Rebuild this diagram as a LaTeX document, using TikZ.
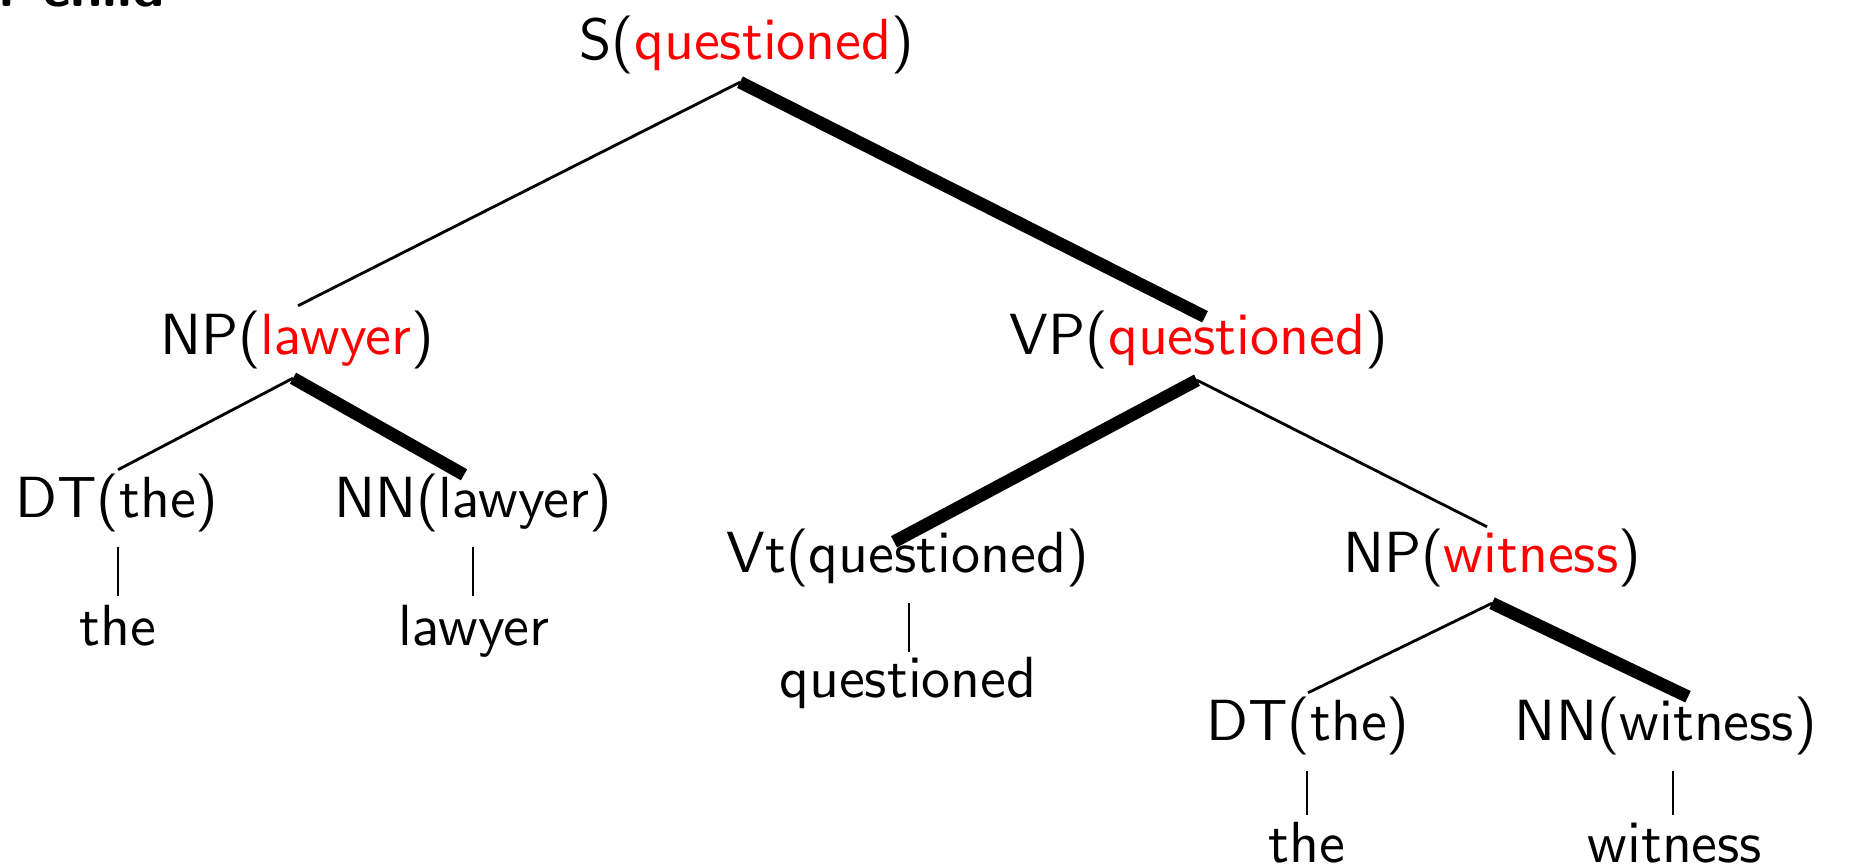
\documentclass[tikz,border=0pt]{standalone}
\usepackage{xcolor}
\font\treefont=cmss10 at 16.5pt
\font\titlefont=cmssbx10 at 16.5pt
\begin{document}
\begin{tikzpicture}[x=0.01cm,y=-0.01cm,
  lbl/.style={anchor=base, inner sep=0.05cm, font=\treefont},
  thin/.style={line width=0.8pt},
  thick/.style={line width=3.6pt, line cap=butt},
  bar/.style={line width=0.8pt}]
\clip (0,0) rectangle (1854,868);
\useasboundingbox (0,0) rectangle (1854,868);
% cut title
\node[anchor=base east, inner sep=0, font=\titlefont] (title) at (166,7) {r child};
% nodes
\node[lbl] (S) at (747,60) {S(\textcolor{red}{questioned})};
\node[lbl] (NPl) at (297,355) {NP(\textcolor{red}{lawyer})};
\node[lbl] (VP) at (1199,355) {VP(\textcolor{red}{questioned})};
\node[lbl] (DT1) at (117,518) {DT(the)};
\node[lbl] (NN1) at (473,518) {NN(lawyer)};
\node[lbl] (Vt) at (908,573) {Vt(questioned)};
\node[lbl] (NPw) at (1492,573) {NP(\textcolor{red}{witness})};
\node[lbl] (DT2) at (1308,741) {DT(the)};
\node[lbl] (NN2) at (1666,741) {NN(witness)};
\node[lbl] (w1) at (118,646) {the};
\node[lbl] (w2) at (474,646) {lawyer};
\node[lbl] (w3) at (908,698) {questioned};
\node[lbl] (w4) at (1307,863) {the};
\node[lbl] (w5) at (1675,863) {witness};
% edges
\draw[thin] ([shift={(-7,2)}]S.south) -- ([shift={(1,0)}]NPl.north);
\draw[thick] ([shift={(-7,2)}]S.south) -- ([shift={(6,11)}]VP.north);
\draw[thin] ([shift={(-4,3)}]NPl.south) -- ([shift={(1,1)}]DT1.north);
\draw[thick] ([shift={(-4,3)}]NPl.south) -- ([shift={(-9,6)}]NN1.north);
\draw[thick] ([shift={(-2,5)}]VP.south) -- ([shift={(-14,18)}]Vt.north);
\draw[thin] ([shift={(-2,5)}]VP.south) -- ([shift={(-5,3)}]NPw.north);
\draw[thin] ([shift={(0,10)}]NPw.south) -- ([shift={(0,1)}]DT2.north);
\draw[thick] ([shift={(0,10)}]NPw.south) -- ([shift={(22,5)}]NN2.north);
% bars
\draw[bar] ([shift={(1,9)}]DT1.south) -- ([shift={(0,-50)}]w1.base);
\draw[bar] ([shift={(0,9)}]NN1.south) -- ([shift={(-1,-50)}]w2.base);
\draw[bar] ([shift={(1,10)}]Vt.south) -- ([shift={(1,-46)}]w3.base);
\draw[bar] ([shift={(-1,10)}]DT2.south) -- ([shift={(0,-48)}]w4.base);
\draw[bar] ([shift={(7,10)}]NN2.south) -- ([shift={(-2,-48)}]w5.base);
\end{tikzpicture}
\end{document}
